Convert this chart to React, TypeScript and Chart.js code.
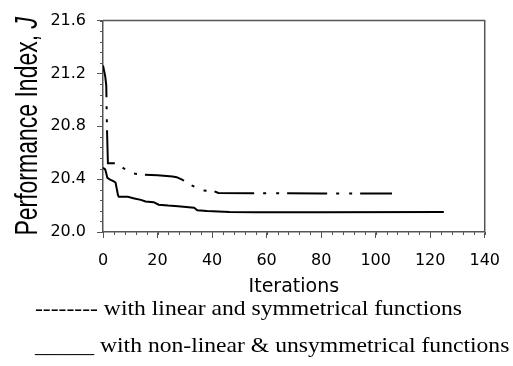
import React, { useEffect, useRef } from 'react';
import { Chart, registerables } from 'chart.js';

Chart.register(...registerables);

// Series: with linear and symmetrical functions (dash-dot line)
const linearIter = [0, 0.8, 1.2, 1.3, 1.5, 1.8, 4.6, 5.2, 7, 10, 12, 15, 20, 25.5, 27, 29, 32, 36.7, 40.7, 42.3, 55, 80, 106];
const linearJ = [21.26, 21.18, 21.11, 20.98, 20.75, 20.52, 20.52, 20.51, 20.49, 20.45, 20.44, 20.433, 20.43, 20.42, 20.415, 20.397, 20.357, 20.314, 20.309, 20.295, 20.293, 20.292, 20.292];

// Series: with non-linear & unsymmetrical functions (solid line)
const nonlinIter = [0, 0.8, 1.6, 2.6, 3.8, 4.6, 5.5, 5.8, 9.1, 11.5, 13.9, 15.6, 18.6, 20.4, 23.9, 27.5, 33.4, 34.6, 38.1, 46.4, 55.9, 80, 125];
const nonlinJ = [20.486, 20.474, 20.41, 20.397, 20.386, 20.374, 20.279, 20.266, 20.266, 20.254, 20.243, 20.231, 20.226, 20.207, 20.2, 20.195, 20.183, 20.164, 20.159, 20.152, 20.15, 20.15, 20.152];

// Axes
const xMin = 0, xMax = 140, xStep = 20, xMinorStep = 4;
const yMin = 20.0, yMax = 21.6, yStep = 0.4, yMinorStep = 0.08;
const xTitle = 'Iterations';
const yTitleMain = 'Performance Index, ';
const yTitleSymbol = 'J';
const legendLines = [
  '-------- with linear and symmetrical functions',
  '_____ with non-linear & unsymmetrical functions',
];

const AXIS = '#555';

const frameTicks = {
  id: 'frameTicks',
  afterDraw(chart: any) {
    const { ctx, chartArea: a, scales } = chart;
    const x = scales.x, y = scales.y;
    ctx.save();
    ctx.strokeStyle = AXIS;
    ctx.lineWidth = 1.5;
    ctx.beginPath();
    ctx.moveTo(a.left, a.top);
    ctx.lineTo(a.right, a.top);
    ctx.lineTo(a.right, a.bottom);
    ctx.stroke();
    ctx.lineWidth = 1;
    ctx.beginPath();
    for (let v = xMin; v <= xMax + 1e-9; v += xMinorStep) {
      const px = Math.round(x.getPixelForValue(v)) + 0.5;
      ctx.moveTo(px, a.bottom);
      ctx.lineTo(px, a.bottom + 3);
    }
    for (let i = 0; yMin + i * yMinorStep <= yMax + 1e-9; i++) {
      const py = Math.round(y.getPixelForValue(yMin + i * yMinorStep)) + 0.5;
      ctx.moveTo(a.left, py);
      ctx.lineTo(a.left - 3, py);
    }
    ctx.stroke();

    // rotated y-axis title (glyphs drawn taller, as in the reference)
    const cy = (a.top + a.bottom) / 2;
    ctx.translate(36.5, cy);
    ctx.rotate(-Math.PI / 2);
    ctx.scale(1, 1.4);
    ctx.fillStyle = '#000';
    ctx.textBaseline = 'alphabetic';
    ctx.textAlign = 'left';
    const fMain = '23px "Liberation Sans", Arial, sans-serif';
    const fSym = 'italic 23px "Liberation Sans", Arial, sans-serif';
    ctx.font = fMain;
    const w1 = ctx.measureText(yTitleMain).width;
    ctx.font = fSym;
    const w2 = ctx.measureText(yTitleSymbol).width;
    const start = -(w1 + w2) / 2;
    ctx.font = fMain;
    ctx.fillText(yTitleMain, start, 0);
    ctx.font = fSym;
    ctx.fillText(yTitleSymbol, start + w1, 0);
    ctx.restore();
  },
};

export default function App() {
  const ref = useRef<HTMLCanvasElement>(null);
  useEffect(() => {
    const canvas = ref.current!;
    const chart = new Chart(canvas, {
      type: 'line',
      data: {
        datasets: [
          {
            label: 'linear',
            data: linearIter.map((v, i) => ({ x: v, y: linearJ[i] })),
            borderColor: '#000',
            borderWidth: 2,
            borderDash: [40, 9, 3, 10, 3, 8],
            borderDashOffset: 8,
            borderCapStyle: 'butt',
            pointRadius: 0,
            tension: 0,
            fill: false,
          },
          {
            label: 'nonlinear',
            data: nonlinIter.map((v, i) => ({ x: v, y: nonlinJ[i] })),
            borderColor: '#000',
            borderWidth: 2,
            pointRadius: 0,
            tension: 0,
            fill: false,
          },
        ],
      },
      options: {
        animation: false,
        responsive: false,
        events: [],
        layout: { padding: { left: 0, top: 8, right: 16, bottom: 0 } },
        plugins: { legend: { display: false }, tooltip: { enabled: false } },
        scales: {
          x: {
            type: 'linear',
            min: xMin,
            max: xMax,
            afterFit: (s: any) => { s.height = 68; },
            ticks: {
              stepSize: xStep,
              color: '#000',
              font: { family: 'DejaVu Sans', size: 16 },
              padding: 13,
              maxRotation: 0,
            },
            grid: { drawOnChartArea: false, drawTicks: true, tickLength: 6, tickColor: AXIS, tickWidth: 1 },
            border: { color: AXIS, width: 1.5 },
            title: {
              display: true,
              text: xTitle,
              color: '#000',
              font: { family: 'DejaVu Sans', size: 19 },
              padding: { top: 0, bottom: 2 },
            },
          },
          y: {
            type: 'linear',
            min: yMin,
            max: yMax,
            afterFit: (s: any) => { s.width = 103; },
            ticks: {
              stepSize: yStep,
              color: '#000',
              font: { family: 'DejaVu Sans', size: 16 },
              padding: 11,
              callback: (v: any) => Number(v).toFixed(1),
            },
            grid: { drawOnChartArea: false, drawTicks: true, tickLength: 6, tickColor: AXIS, tickWidth: 1 },
            border: { color: AXIS, width: 1.5 },
            title: { display: false },
          },
        },
      },
      plugins: [frameTicks],
    } as any);
    return () => chart.destroy();
  }, []);

  return (
    <div style={{ position: 'fixed', left: 0, top: 0, width: 513, height: 366, background: '#fff' }}>
      <canvas ref={ref} width={513} height={300} style={{ display: 'block' }} />
      {legendLines.map((t, i) => (
        <div
          key={i}
          style={{
            position: 'absolute',
            left: 35,
            top: 295 + i * 37,
            fontFamily: '"Liberation Serif", "Times New Roman", serif',
            fontSize: 21,
            lineHeight: '26px',
            whiteSpace: 'nowrap',
            color: '#000',
            transform: 'scaleX(1.125)',
            transformOrigin: 'left center',
          }}
        >
          {t}
        </div>
      ))}
    </div>
  );
}
